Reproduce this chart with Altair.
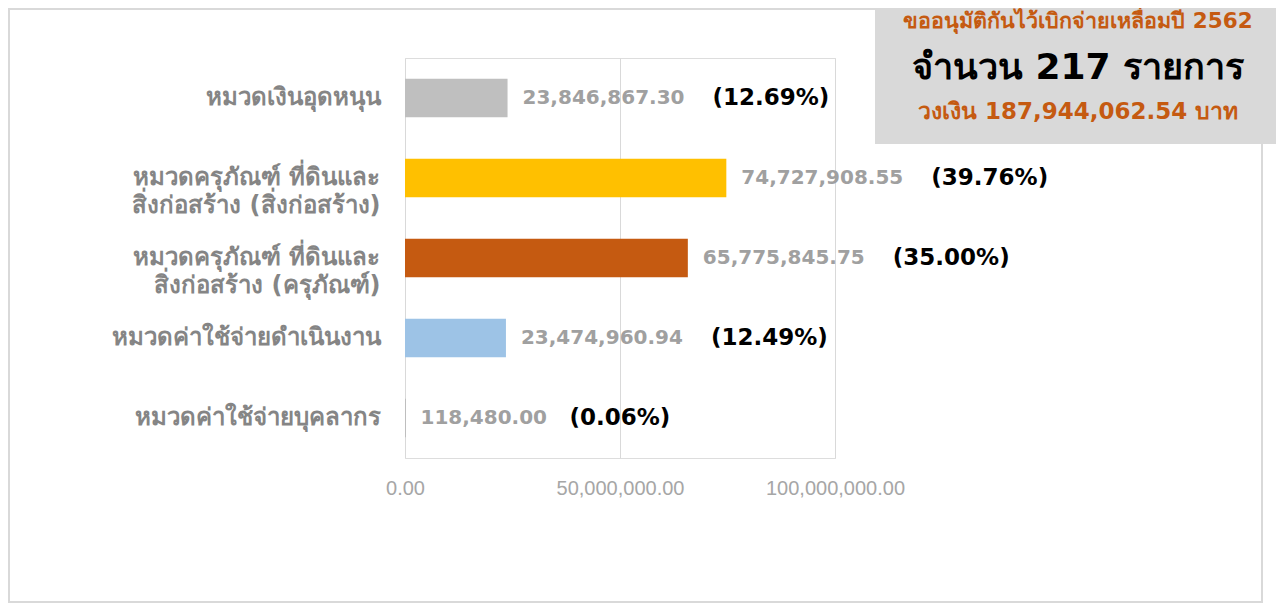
import altair as alt
import pandas as pd

# ---- data ----
categories = [
    "หมวดเงินอุดหนุน",
    "หมวดครุภัณฑ์ ที่ดินและ|สิ่งก่อสร้าง (สิ่งก่อสร้าง)",
    "หมวดครุภัณฑ์ ที่ดินและ|สิ่งก่อสร้าง (ครุภัณฑ์)",
    "หมวดค่าใช้จ่ายดำเนินงาน",
    "หมวดค่าใช้จ่ายบุคลากร",
]
values = [23846867.30, 74727908.55, 65775845.75, 23474960.94, 118480.00]
value_labels = ["23,846,867.30", "74,727,908.55", "65,775,845.75", "23,474,960.94", "118,480.00"]
percent_labels = ["(12.69%)", "(39.76%)", "(35.00%)", "(12.49%)", "(0.06%)"]
bar_colors = ["#bfbfbf", "#ffc000", "#c55a11", "#9dc3e6", "#a5a5a5"]
x_ticks = [0, 50000000, 100000000]

box_line1 = "ขออนุมัติกันไว้เบิกจ่ายเหลื่อมปี 2562"
box_line2 = "จำนวน 217 รายการ"
box_line3 = "วงเงิน 187,944,062.54 บาท"

df = pd.DataFrame({
    "cat": categories,
    "value": values,
    "vlabel": value_labels,
    "plabel": percent_labels,
    "color": bar_colors,
})

FONT = "DejaVu Sans, Tahoma, Noto Sans, sans-serif"
AXFONT = "Liberation Sans, Arial, sans-serif"
W, H = 430, 400
PAD_L, PAD_T = 397, 50
TOTAL_W, TOTAL_H = 1268, 596

x = alt.X("value:Q", scale=alt.Scale(domain=[0, 100000000]),
          axis=alt.Axis(values=x_ticks, format=",.2f", title=None, grid=True,
                        gridColor="#d9d9d9", domain=False, ticks=False,
                        labelColor="#a6a6a6", labelFontSize=20, labelPadding=20,
                        labelFont=AXFONT, labelFlush=False))
y = alt.Y("cat:N", sort=categories, scale=alt.Scale(paddingInner=0.52, paddingOuter=0.26),
          axis=alt.Axis(title=None, domain=False, ticks=False, labelPadding=25,
                        labelExpr="split(datum.label, '|')", labelFontSize=24,
                        labelColor="#858585", labelFontWeight="bold", labelFont=FONT,
                        labelLineHeight=28, labelLimit=400))

base = alt.Chart(df)

bars = base.mark_bar().encode(
    x=x, y=y, color=alt.Color("color:N", scale=None)
)

vtext = base.mark_text(align="left", baseline="middle", dx=15, fontSize=20,
                       fontWeight="bold", color="#a0a0a0", font=FONT).encode(
    x="value:Q", y=alt.Y("cat:N", sort=categories), text="vlabel:N"
)

ptext_long = base.transform_filter("length(datum.vlabel) > 11").mark_text(
    align="left", baseline="middle", dx=205, fontSize=23, fontWeight="bold",
    color="#000000", font=FONT).encode(
    x="value:Q", y=alt.Y("cat:N", sort=categories), text="plabel:N"
)
ptext_short = base.transform_filter("length(datum.vlabel) <= 11").mark_text(
    align="left", baseline="middle", dx=164, fontSize=23, fontWeight="bold",
    color="#000000", font=FONT).encode(
    x="value:Q", y=alt.Y("cat:N", sort=categories), text="plabel:N"
)

one = alt.Data(values=[{"a": 1}])

frame = alt.Chart(one).mark_rect(fill=None, stroke="#d9d9d9", strokeWidth=2).encode(
    x=alt.value(-396), x2=alt.value(TOTAL_W - PAD_L - 14),
    y=alt.value(-49), y2=alt.value(TOTAL_H - PAD_T - 2),
)

box = alt.Chart(one).mark_rect(fill="#d9d9d9").encode(
    x=alt.value(875 - 8 - PAD_L), x2=alt.value(TOTAL_W - PAD_L),
    y=alt.value(-PAD_T), y2=alt.value(144 - 8 - PAD_T),
)

t1 = alt.Chart(one).mark_text(align="center", baseline="middle", fontSize=21.5,
                              fontWeight="bold", color="#c55a11", font=FONT).encode(
    x=alt.value(1078 - 8 - PAD_L), y=alt.value(22 - 8 - PAD_T), text=alt.value(box_line1))
t2 = alt.Chart(one).mark_text(align="center", baseline="middle", fontSize=36,
                              fontWeight="bold", color="#000000", font=FONT).encode(
    x=alt.value(1078 - 8 - PAD_L), y=alt.value(68 - 8 - PAD_T), text=alt.value(box_line2))
t3 = alt.Chart(one).mark_text(align="center", baseline="middle", fontSize=23,
                              fontWeight="bold", color="#c55a11", font=FONT).encode(
    x=alt.value(1078 - 8 - PAD_L), y=alt.value(112 - 8 - PAD_T), text=alt.value(box_line3))

chart = alt.layer(frame, bars, vtext, ptext_long, ptext_short, box, t1, t2, t3).properties(
    width=W, height=H,
    autosize=alt.AutoSizeParams(type="none"),
    padding={"left": PAD_L, "top": PAD_T, "right": TOTAL_W - PAD_L - W,
             "bottom": TOTAL_H - PAD_T - H},
).configure_view(stroke=None).configure(background="#ffffff")

chart.save("out.html", embed_options={"renderer": "svg", "actions": False})
